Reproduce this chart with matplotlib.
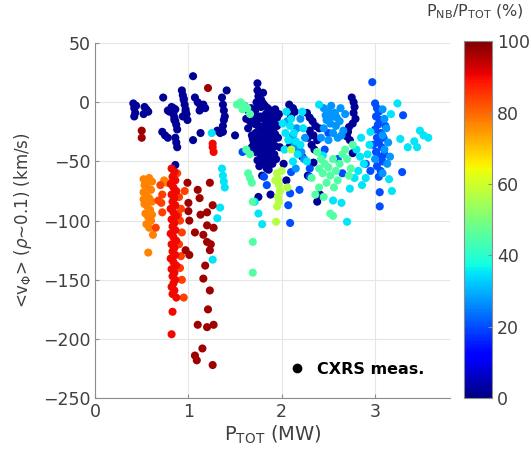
import numpy as np
import matplotlib
matplotlib.use("Agg")
import matplotlib.pyplot as plt
from matplotlib.lines import Line2D

# P_TOT (MW), <v_phi> (km/s) and P_NB/P_TOT (%) for each group of shots

# ohmic / RF only, P_NB/P_TOT ~ 0
ptot_navy = [0.41, 0.42, 0.43, 0.42, 0.44, 0.53, 0.55, 0.57, 0.52, 0.73,
             0.78, 0.80, 0.84, 0.82, 0.84, 0.85, 0.86, 0.87, 0.88, 0.86,
             0.85, 0.93, 0.94, 0.95, 0.96, 0.97, 0.98, 0.99, 0.97, 0.95,
             0.94, 1.05, 1.07, 1.10, 1.13, 1.16, 1.18, 1.12, 0.72, 0.75,
             0.78, 0.86, 0.87, 0.88, 1.05, 1.13, 1.31, 1.34, 1.37, 1.36,
             1.37, 1.38, 1.39, 1.38, 1.37, 1.41, 1.50, 0.86,
             1.74, 1.74, 1.75, 1.73, 1.76, 1.72, 1.78, 1.80, 1.82, 1.85,
             1.88, 1.90, 1.93, 1.65, 1.68, 1.70, 1.62, 1.66, 1.70, 1.74,
             1.77, 1.80, 1.83, 1.86, 1.89, 1.92, 1.95, 1.75, 1.78, 1.81,
             1.84, 1.87, 1.90, 1.93, 1.72, 1.76, 1.79, 1.82, 1.85, 1.88,
             1.91, 1.70, 1.74, 1.77, 1.80, 1.83, 1.86, 1.89, 1.92, 1.78,
             1.81, 1.84, 1.87, 1.90, 1.76, 1.86, 1.60, 1.64, 1.68, 1.96,
             1.97, 1.98, 1.72, 1.94, 1.80, 1.78, 1.85, 1.75, 1.88, 1.82,
             1.67, 1.71, 1.73, 1.79, 1.83, 1.87, 1.91, 1.69, 1.77, 1.81,
             1.85, 1.89, 1.93, 1.74, 1.79, 1.84, 1.71, 1.95, 1.68, 1.82,
             2.08, 2.12, 2.14, 2.10, 2.27, 2.30, 2.33, 2.36, 2.30, 2.34,
             2.38, 2.32, 2.40, 2.28, 2.35, 2.34, 2.28, 2.22, 2.08, 2.02,
             2.75, 2.77, 2.78, 2.77, 2.79, 2.76, 2.72, 2.71, 2.70, 2.73,
             2.76, 1.75, 1.88, 2.38, 2.41, 1.79, 2.05]
vphi_navy = [-1, -5, -9, -12, -3, -4, -6, -8, -10, 4,
             -7, -8, -5, -4, -10, -13, -16, -19, -23, -6,
             -15, 10, 6, 2, -2, -6, -10, -15, -8, 3,
             -12, 22, 4, 0, -3, -2, -5, -7, -25, -28,
             -30, -30, -34, -38, -32, -26, -24, -26, -25, 4,
             -2, -7, -12, -15, -20, 10, -28, -53,
             16, 10, 5, 0, -2, -6, -4, -1, -3, -5,
             -7, -10, -6, -8, -10, -12, -14, -16, -18, -15,
             -12, -14, -10, -12, -15, -18, -20, -20, -22, -20,
             -24, -22, -25, -27, -26, -28, -30, -32, -30, -34,
             -32, -34, -36, -38, -40, -38, -42, -40, -44, -46,
             -48, -50, -48, -52, -54, -57, -3, -22, -28, -30,
             -10, -38, -42, -48, 8, 2, -18, -33, -28, -44,
             -5, -9, -19, -26, -29, -35, -23, -31, -43, -36,
             -41, -46, -37, -49, -52, -56, -15, -13, -38, -27,
             -2, -5, -8, -12, -9, -13, -16, -20, -24, -28,
             -32, -36, -22, -30, -40, -51, -62, -46, -38, -52,
             4, 0, -4, -9, -14, -18, -21, -25, -29, -32,
             -43, -80, -78, -84, -78, -62, -66]

# ~20 %
ptot_blue = [2.97, 3.00, 3.02, 3.04, 3.01, 3.05, 3.03, 3.00, 3.06, 3.02,
             3.04, 3.07, 3.01, 3.05, 3.08, 3.02, 3.06, 3.04, 3.10, 2.98,
             3.30, 3.29, 3.05, 3.05, 3.09, 3.11,
             1.58, 1.81, 1.84, 2.09, 2.19, 2.09, 2.07, 2.10, 2.30, 2.30,
             2.50, 2.46, 2.60, 2.65, 2.90, 2.95]
vphi_blue = [17, -1, -5, -8, -12, -15, -19, -23, -26, -30,
             -34, -38, -42, -46, -50, -54, -58, -63, -44, -36,
             -11, -59, -76, -88, -30, -20,
             -42, -63, -70, -77, -74, -102, -87, -59, -56, -63,
             -26, -40, -48, -60, -52, -58]

# ~27 %
ptot_lblue = [2.45, 2.50, 2.55, 2.48, 2.52, 2.58, 2.62, 2.45, 2.55, 2.60,
              2.66, 2.50, 2.42, 2.68, 2.63, 2.53, 2.57, 2.47, 2.64, 2.59,
              3.08, 3.10, 3.12, 3.08, 3.14, 3.10, 3.00, 3.13, 3.08, 3.16,
              2.20, 2.16, 2.25, 2.18, 2.12, 2.24, 2.15, 2.06, 2.21, 2.14]
vphi_lblue = [-5, -8, -12, -15, -18, -20, -16, -22, -26, -30,
              -24, -32, -30, -10, -5, -3, -9, -11, -28, -13,
              -6, -14, -22, -28, -34, -40, -48, -52, -60, -46,
              -14, -22, -30, -40, -28, -48, -56, -16, -42, -35]

# ~35 %
ptot_cyan = [2.05, 2.09, 2.13, 2.07, 2.20, 2.23, 2.17, 2.04, 2.27, 2.12,
             2.03, 2.22, 2.10, 2.15, 2.01,
             3.24, 3.48, 3.52, 3.57, 3.45, 3.35, 3.27, 3.42,
             2.80, 2.84, 2.88, 2.82, 2.90, 2.86, 2.78, 2.92, 2.94, 2.85,
             2.73, 2.70, 2.55, 2.64, 1.75, 1.79, 1.71,
             1.36, 1.37, 1.38, 1.39, 1.34, 1.31, 1.26, 1.25,
             3.15, 3.17, 2.95, 2.40, 2.44, 3.18]
vphi_cyan = [-8, -20, -26, -32, -36, -22, -44, -26, -50, -50,
             -40, -8, -14, -33, -18,
             -1, -24, -28, -30, -38, -38, -31, -33,
             -40, -46, -52, -58, -64, -70, -64, -44, -36, -30,
             -73, -101, -83, -85, -94, -103, -84,
             -56, -62, -67, -72, -89, -98, -133, -26,
             -65, -10, -25, -2, -45, -75]

# ~45 %
ptot_green = [1.52, 1.56, 1.60, 1.63, 1.58, 1.66,
              1.64, 1.66, 1.68, 1.69, 1.69, 1.69,
              2.38, 2.42, 2.46, 2.40, 2.44, 2.50, 2.55, 2.52, 2.58, 2.62,
              2.48, 2.40, 2.36, 2.45, 2.60, 2.65, 2.52, 2.55, 2.32, 2.56,
              2.70, 2.74, 2.68, 2.76, 2.72, 1.62, 1.66]
vphi_green = [-2, 0, -3, -5, -6, -10,
              -60, -64, -68, -84, -118, -144,
              -42, -48, -52, -56, -60, -55, -48, -62, -58, -52,
              -68, -72, -78, -80, -66, -44, -94, -96, -64, -72,
              -48, -56, -40, -36, -62, -40, -44]

# ~57 %
ptot_yellow = [1.95, 1.96, 1.97, 1.98, 1.96, 1.97, 1.95, 1.93, 1.94, 2.00,
               2.06, 2.10]
vphi_yellow = [-60, -65, -70, -75, -80, -84, -88, -66, -101, -58,
               -72, -40]

# ~77 %
ptot_orange = [0.52, 0.55, 0.58, 0.61, 0.53, 0.56, 0.60, 0.52, 0.55, 0.58,
               0.61, 0.53, 0.56, 0.59, 0.54, 0.57, 0.60, 0.55, 0.58, 0.62,
               0.57, 0.77, 0.74, 0.61, 0.52]
vphi_orange = [-65, -66, -64, -67, -70, -72, -74, -76, -79, -81,
               -84, -86, -88, -91, -94, -97, -100, -103, -106, -112,
               -127, -68, -66, -95, -82]

# ~84 %
ptot_redor = [0.70, 0.72, 0.71, 0.72, 0.68, 0.65, 0.90, 0.92, 0.91, 0.93,
              0.90, 0.92, 0.91, 0.93, 0.95, 0.96, 0.88, 0.89]
vphi_redor = [-70, -78, -85, -93, -83, -106, -80, -90, -100, -110,
              -120, -130, -140, -150, -165, -75, -60, -95]

# ~90 %
ptot_red = [0.82, 0.85, 0.83, 0.86, 0.81, 0.84, 0.87, 0.82, 0.85, 0.83,
            0.86, 0.81, 0.84, 0.87, 0.82, 0.85, 0.83, 0.86, 0.81, 0.84,
            0.87, 0.82, 0.85, 0.83, 0.86, 0.81, 0.84, 0.87, 0.82, 0.85,
            0.83, 0.86, 0.84, 0.82, 0.85, 0.83, 0.87, 0.83, 0.82,
            1.26, 1.26, 1.27]
vphi_red = [-56, -59, -63, -66, -69, -72, -75, -78, -81, -84,
            -87, -90, -93, -96, -99, -102, -105, -108, -111, -114,
            -117, -120, -123, -126, -129, -132, -135, -138, -141, -144,
            -147, -150, -153, -156, -159, -162, -165, -177, -196,
            -35, -38, -42]

# ~97 %
ptot_dred = [0.50, 0.50, 1.21, 0.99, 1.10, 1.12, 1.23, 1.26, 1.00, 1.00,
             1.01, 1.07, 1.16, 1.20, 1.23, 1.18, 1.16, 0.97, 1.01, 1.20,
             1.20, 1.27, 1.23, 1.21, 1.10, 1.20, 1.27, 1.15, 1.07, 1.09,
             1.26, 1.24, 1.13]
vphi_dred = [-24, -30, 12, -68, -74, -81, -68, -87, -85, -92,
             -100, -110, -112, -118, -125, -138, -149, -125, -129, -93,
             -104, -106, -159, -175, -188, -190, -188, -208, -214, -218,
             -222, -120, -95]

groups = [
    (ptot_navy, vphi_navy, 2),
    (ptot_blue, vphi_blue, 20),
    (ptot_lblue, vphi_lblue, 27),
    (ptot_cyan, vphi_cyan, 35),
    (ptot_green, vphi_green, 45),
    (ptot_yellow, vphi_yellow, 57),
    (ptot_orange, vphi_orange, 77),
    (ptot_redor, vphi_redor, 84),
    (ptot_red, vphi_red, 90),
    (ptot_dred, vphi_dred, 97),
]

grey = '#404040'
plt.rcParams['font.family'] = ['DejaVu Sans']

fig = plt.figure(figsize=(5.31, 4.63), dpi=100)
ax = fig.add_axes([0.179, 0.140, 0.668, 0.767])
cax = fig.add_axes([0.874, 0.140, 0.053, 0.771])

for x, y, frac in groups:
    sc = ax.scatter(x, y, c=np.full(len(x), frac), cmap='jet', vmin=0, vmax=100,
                    s=34, edgecolors='none', zorder=3)

ax.set_xlim(0, 3.8)
ax.set_ylim(-250, 50)
ax.set_xticks([0, 1, 2, 3])
ax.set_yticks(np.arange(-250, 51, 50))
ax.grid(True, color='#e6e6e6', linewidth=0.8, zorder=0)
for s in ['top', 'right']:
    ax.spines[s].set_visible(False)
for s in ['left', 'bottom']:
    ax.spines[s].set_color('#8c8c8c')
ax.tick_params(direction='in', length=3, colors='#8c8c8c', labelcolor=grey,
               labelsize=12.5)

ax.set_xlabel('P$_{\\mathrm{TOT}}$ (MW)', fontsize=14, color=grey, labelpad=2)
ax.set_ylabel('<v$_{\\Phi}$> ($\\rho$\u223c0.1) (km/s)', fontsize=12,
              color=grey, labelpad=6)

handle = Line2D([], [], marker='o', linestyle='none', color='black',
                markersize=6)
ax.legend([handle], ['CXRS meas.'], loc='lower right', frameon=False,
          prop={'weight': 'bold', 'size': 11.5}, handletextpad=0.3,
          bbox_to_anchor=(0.97, 0.02))

cb = fig.colorbar(sc, cax=cax, ticks=[0, 20, 40, 60, 80, 100])
cb.outline.set_edgecolor('#8c8c8c')
cb.outline.set_linewidth(0.8)
cax.tick_params(direction='in', length=3, colors='#8c8c8c', labelcolor=grey,
                labelsize=12.5)
fig.text(0.895, 0.955, 'P$_{\\mathrm{NB}}$/P$_{\\mathrm{TOT}}$ (%)',
         ha='center', va='bottom', fontsize=11.5, color=grey)

fig.savefig('out.png', dpi=100)
